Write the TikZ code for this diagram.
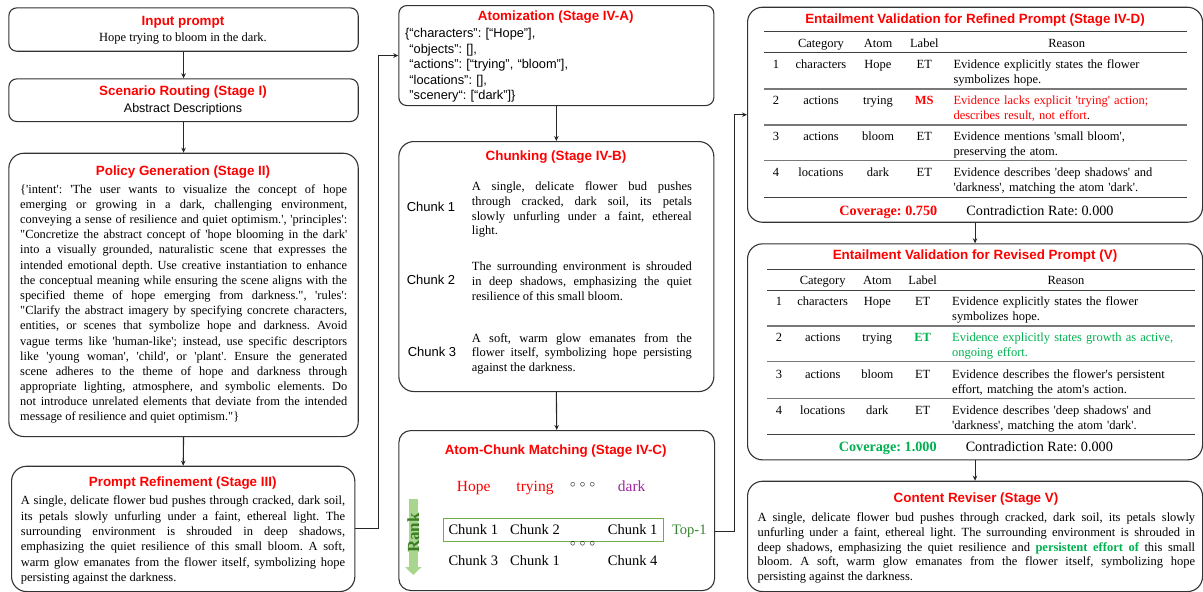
\documentclass[tikz,border=0pt]{standalone}
\usepackage{fontspec}
\usepackage{xcolor}
\usetikzlibrary{positioning,calc,arrows.meta}
\newfontfamily\bodyserif{Liberation Serif}
\newfontfamily\headsans{Liberation Sans}
\frenchspacing
\definecolor{TitleRed}{RGB}{255,0,0}
\definecolor{OkGreen}{RGB}{0,176,80}
\definecolor{TopGreen}{RGB}{56,130,50}
\definecolor{BoxGreen}{RGB}{112,173,71}
\definecolor{RankGreen}{RGB}{169,214,142}
\definecolor{RankText}{RGB}{60,125,35}
\definecolor{AtomPurple}{RGB}{160,40,160}
\definecolor{RuleGray}{RGB}{120,120,120}
\tikzset{
    panel/.style={draw=black!80, line width=1.1pt, anchor=north west, inner sep=0pt, rounded corners=#1},
    panel/.default=8pt,
    ttl/.style={text=TitleRed, inner sep=0pt, font={\headsans\bfseries\fontsize{13.4}{16}\selectfont}},
    txt/.style={inner sep=0pt, font={\bodyserif\fontsize{12.5}{15.2}\selectfont}},
    para/.style={txt, text width=#1, align=justify, anchor=base west},
    lbl/.style={inner sep=0pt, font={\headsans\fontsize{12.8}{15.4}\selectfont}},
    cell/.style={txt, anchor=base},
    reason/.style={txt, anchor=base west, text width=240pt, align=left},
    foot/.style={inner sep=0pt, anchor=base, font={\bodyserif\fontsize{14.2}{16}\selectfont}},
    big/.style={inner sep=0pt, anchor=base, font={\bodyserif\fontsize{14.5}{16}\selectfont}},
    arr/.style={draw=black!85, line width=1.1pt, -{Stealth[length=5pt,width=4.5pt]}},
    hrule/.style={draw=black!75, line width=0.8pt},
    rowrule/.style={draw=RuleGray, line width=1.3pt}
}
\begin{document}
\begin{tikzpicture}[x=1pt, y=-1pt]
    \useasboundingbox (0,0) rectangle (1203,592);

    % --- left column ---
    \node[panel, minimum width=349.4pt, minimum height=43.4pt] (inp) at (8.3,7.3) {};
    \node[ttl] (inpT) at (183,22.3) {Input prompt};
    \node[cell] (inpX) at (183,41.3) {Hope trying to bloom in the dark.};

    \node[panel, minimum width=349.4pt, minimum height=42.7pt] (route) at (8.3,78.3) {};
    \node[ttl] (routeT) at (183,91.7) {Scenario Routing (Stage I)};
    \node[lbl, anchor=base, font={\headsans\fontsize{12.5}{15}\selectfont}] (routeX) at (183,112.6) {Abstract Descriptions};

    \node[panel=15pt, minimum width=349.4pt, minimum height=283.3pt] (policy) at (8.3,152.7) {};
    \node[ttl] (policyT) at (183,171.7) {Policy Generation (Stage II)};
    \node[para=327pt, font={\bodyserif\fontsize{12.4}{15.17}\selectfont}] (policyX) at (20,193.3) {%
        \{'intent': 'The user wants to visualize the concept of hope\linebreak
        emerging or growing in a dark, challenging environment,\linebreak
        conveying a sense of resilience and quiet optimism.', 'principles':\linebreak
        "Concretize the abstract concept of 'hope blooming in the dark'\linebreak
        into a visually grounded, naturalistic scene that expresses the\linebreak
        intended emotional depth. Use creative instantiation to enhance\linebreak
        the conceptual meaning while ensuring the scene aligns with the\linebreak
        specified theme of hope emerging from darkness.", 'rules':\linebreak
        "Clarify the abstract imagery by specifying concrete characters,\linebreak
        entities, or scenes that symbolize hope and darkness. Avoid\linebreak
        vague terms like 'human-like'; instead, use specific descriptors\linebreak
        like 'young woman', 'child', or 'plant'. Ensure the generated\linebreak
        scene adheres to the theme of hope and darkness through\linebreak
        appropriate lighting, atmosphere, and symbolic elements. Do\linebreak
        not introduce unrelated elements that deviate from the intended\linebreak
        message of resilience and quiet optimism."\}};

    \node[panel=15pt, minimum width=343.3pt, minimum height=125.3pt] (refine) at (11,465.7) {};
    \node[ttl] (refineT) at (182.7,483.3) {Prompt Refinement (Stage III)};
    \node[para=324.3pt, font={\bodyserif\fontsize{12.5}{15.4}\selectfont}] (refineX) at (20.7,504.7) {%
        A single, delicate flower bud pushes through cracked, dark soil,\linebreak
        its petals slowly unfurling under a faint, ethereal light. The\linebreak
        surrounding environment is shrouded in deep shadows,\linebreak
        emphasizing the quiet resilience of this small bloom. A soft,\linebreak
        warm glow emanates from the flower itself, symbolizing hope\linebreak
        persisting against the darkness.};

    \draw[arr] (inp.south) -- (route.north);
    \draw[arr] (route.south) -- (policy.north);
    \draw[arr] (policy.south) -- (refine.north);

    % --- middle column ---
    \node[panel, minimum width=315pt, minimum height=100pt] (atom) at (398.3,5) {};
    \node[ttl] (atomT) at (555.7,17.3) {Atomization (Stage IV-A)};
    \node[lbl, anchor=base west, text width=280pt, align=left] (atomX) at (405,37.8) {%
        \{“characters”: [“Hope”],\\
        \phantom{\{}“objects”: [],\\
        \phantom{\{}“actions”: [“trying”, “bloom”],\\
        \phantom{\{}“locations”: [],\\
        \phantom{\{}”scenery“: [“dark”]\}};

    \node[panel=15pt, minimum width=315pt, minimum height=250pt] (chunk) at (398.3,141) {};
    \node[ttl] (chunkT) at (556,157.3) {Chunking (Stage IV-B)};
    \node[lbl, font={\headsans\fontsize{13}{15}\selectfont}] (c1) at (431,207.3) {Chunk 1};
    \node[lbl, font={\headsans\fontsize{13}{15}\selectfont}] (c2) at (431,280) {Chunk 2};
    \node[lbl, font={\headsans\fontsize{13}{15}\selectfont}] (c3) at (432,352.3) {Chunk 3};
    \node[para=220pt, font={\bodyserif\fontsize{12.5}{14.7}\selectfont}] (c1X) at (471.7,190.7) {%
        A single, delicate flower bud pushes\linebreak
        through cracked, dark soil, its petals\linebreak
        slowly unfurling under a faint, ethereal\linebreak
        light.};
    \node[para=220pt, font={\bodyserif\fontsize{12.5}{15.2}\selectfont}] (c2X) at (471.7,270) {%
        The surrounding environment is shrouded\linebreak
        in deep shadows, emphasizing the quiet\linebreak
        resilience of this small bloom.};
    \node[para=220pt, font={\bodyserif\fontsize{12.5}{14.9}\selectfont}] (c3X) at (471.7,342) {%
        A soft, warm glow emanates from the\linebreak
        flower itself, symbolizing hope persisting\linebreak
        against the darkness.};

    \node[panel=12pt, minimum width=315.7pt, minimum height=160pt] (match) at (398.3,430) {};
    \node[ttl] (matchT) at (555.7,450.7) {Atom-Chunk Matching (Stage IV-C)};
    \node[big, text=TitleRed, font={\bodyserif\fontsize{15.5}{17}\selectfont}] (aHope) at (473.7,491) {Hope};
    \node[big, text=TitleRed, font={\bodyserif\fontsize{15.5}{17}\selectfont}] (aTry) at (535,491) {trying};
    \node[inner sep=0pt, font=\fontsize{11}{11}\selectfont] (dotsA) at (582.7,485) {$\circ\,\circ\,\circ$};
    \node[big, text=AtomPurple, font={\bodyserif\fontsize{15.5}{17}\selectfont}] (aDark) at (631.7,491) {dark};
    \node[draw=BoxGreen, line width=1pt, anchor=north west, inner sep=0pt,
          minimum width=220pt, minimum height=23pt] (topbox) at (443.3,517.7) {};
    \node[big] (r1a) at (473.3,534.3) {Chunk 1};
    \node[big] (r1b) at (535,534.3) {Chunk 2};
    \node[big] (r1c) at (632.7,534.3) {Chunk 1};
    \node[big, text=TopGreen] (top1) at (689.3,534.3) {Top-1};
    \node[inner sep=0pt, font=\fontsize{11}{11}\selectfont] (dotsB) at (582.7,544) {$\circ\,\circ\,\circ$};
    \node[big] (r2a) at (473.3,565.3) {Chunk 3};
    \node[big] (r2b) at (535,565.3) {Chunk 1};
    \node[big] (r2c) at (632.7,565.3) {Chunk 4};
    \coordinate (rkTop) at (413.3,499);
    \coordinate (rkEnd) at (413.3,575);
    \draw[RankGreen, line width=9pt, -{Triangle[width=16pt,length=8pt]}] (rkTop) -- (rkEnd);
    \node[inner sep=0pt, rotate=90, text=RankText, font={\bodyserif\bfseries\fontsize{17}{18}\selectfont}] (rank) at (413.3,533) {Rank};

    \draw[arr] (refine.east) -- ++(22.7,0) |- (atom.west);
    \draw[arr] (atom.south) -- (chunk.north);
    \draw[arr] (chunk.south) -- (match.north);

    % --- right column: stage IV-D ---
    \node[panel=15pt, minimum width=455pt, minimum height=215pt] (entD) at (747,6.7) {};
    \node[ttl] (entDT) at (975,20) {Entailment Validation for Refined Prompt (Stage IV-D)};
    \draw[hrule] (764,31.7) -- (1186.7,31.7);
    \node[cell] (dh2) at (821,47.3) {Category};
    \node[cell] (dh3) at (878,47.3) {Atom};
    \node[cell] (dh4) at (924.3,47.3) {Label};
    \node[cell] (dh5) at (1066.7,47.3) {Reason};
    \draw[hrule] (764,52.3) -- (1186.7,52.3);
    \node[cell] (d1a) at (776,68) {1};
    \node[cell] (d1b) at (821,68) {characters};
    \node[cell] (d1c) at (878,68) {Hope};
    \node[cell] (d1d) at (924.3,68) {ET};
    \node[reason] (d1e) at (953.3,68) {Evidence explicitly states the flower\\symbolizes hope.};
    \draw[rowrule] (764,89) -- (1186.7,89);
    \node[cell] (d2a) at (776,104) {2};
    \node[cell] (d2b) at (821,104) {actions};
    \node[cell] (d2c) at (878,104) {trying};
    \node[cell, text=TitleRed, font={\bodyserif\bfseries\fontsize{12.5}{15.2}\selectfont}] (d2d) at (924.3,104) {MS};
    \node[reason] (d2e) at (953.3,104) {\color{TitleRed}Evidence lacks explicit 'trying' action;\\\color{TitleRed}describes result, not effort\color{black}.};
    \draw[rowrule] (764,125) -- (1186.7,125);
    \node[cell] (d3a) at (776,140) {3};
    \node[cell] (d3b) at (821,140) {actions};
    \node[cell] (d3c) at (878,140) {bloom};
    \node[cell] (d3d) at (924.3,140) {ET};
    \node[reason] (d3e) at (953.3,140) {Evidence mentions 'small bloom',\\preserving the atom.};
    \draw[rowrule] (764,160.7) -- (1186.7,160.7);
    \node[cell] (d4a) at (776,176.7) {4};
    \node[cell] (d4b) at (821,176.7) {locations};
    \node[cell] (d4c) at (878,176.7) {dark};
    \node[cell] (d4d) at (924.3,176.7) {ET};
    \node[reason] (d4e) at (953.3,176.7) {Evidence describes 'deep shadows' and\\'darkness', matching the atom 'dark'.};
    \draw[hrule] (764,197.3) -- (1186.7,197.3);
    \node[foot, text=TitleRed, font={\bodyserif\bfseries\fontsize{14.2}{16}\selectfont}] (covD) at (888.3,215) {Coverage: 0.750};
    \node[foot] (conD) at (1040,215) {Contradiction Rate: 0.000};

    % --- right column: stage V check ---
    \node[panel=15pt, minimum width=455pt, minimum height=216pt] (entV) at (747,243.3) {};
    \node[ttl] (entVT) at (975,256) {Entailment Validation for Revised Prompt (V)};
    \draw[hrule] (767.3,269) -- (1195,269);
    \node[cell] (vh2) at (822.7,284) {Category};
    \node[cell] (vh3) at (877.3,284) {Atom};
    \node[cell] (vh4) at (922.7,284) {Label};
    \node[cell] (vh5) at (1066,284) {Reason};
    \draw[hrule] (767.3,290) -- (1195,290);
    \node[cell] (v1a) at (779,305) {1};
    \node[cell] (v1b) at (822.7,305) {characters};
    \node[cell] (v1c) at (877.3,305) {Hope};
    \node[cell] (v1d) at (922.7,305) {ET};
    \node[reason] (v1e) at (952,305) {Evidence explicitly states the flower\\symbolizes hope.};
    \draw[rowrule] (767.3,326) -- (1195,326);
    \node[cell] (v2a) at (779,341.3) {2};
    \node[cell] (v2b) at (822.7,341.3) {actions};
    \node[cell] (v2c) at (877.3,341.3) {trying};
    \node[cell, text=OkGreen, font={\bodyserif\bfseries\fontsize{12.5}{15.2}\selectfont}] (v2d) at (922.7,341.3) {ET};
    \node[reason, text=OkGreen] (v2e) at (952,341.3) {Evidence explicitly states growth as active,\\ongoing effort.};
    \draw[rowrule] (767.3,361.7) -- (1195,361.7);
    \node[cell] (v3a) at (779,378) {3};
    \node[cell] (v3b) at (822.7,378) {actions};
    \node[cell] (v3c) at (877.3,378) {bloom};
    \node[cell] (v3d) at (922.7,378) {ET};
    \node[reason] (v3e) at (952,378) {Evidence describes the flower's persistent\\effort, matching the atom's action.};
    \draw[rowrule] (767.3,398.3) -- (1195,398.3);
    \node[cell] (v4a) at (779,414) {4};
    \node[cell] (v4b) at (822.7,414) {locations};
    \node[cell] (v4c) at (877.3,414) {dark};
    \node[cell] (v4d) at (922.7,414) {ET};
    \node[reason] (v4e) at (952,414) {Evidence describes 'deep shadows' and\\'darkness', matching the atom 'dark'.};
    \draw[hrule] (767.3,434) -- (1195,434);
    \node[foot, text=OkGreen, font={\bodyserif\bfseries\fontsize{14.2}{16}\selectfont}] (covV) at (887.7,451.7) {Coverage: 1.000};
    \node[foot] (conV) at (1039.3,451.7) {Contradiction Rate: 0.000};

    % --- right column: reviser ---
    \node[panel=15pt, minimum width=455pt, minimum height=110.3pt] (revise) at (747,480.7) {};
    \node[ttl] (reviseT) at (976,499.3) {Content Reviser (Stage V)};
    \node[para=437.7pt, font={\bodyserif\fontsize{12.5}{14.85}\selectfont}] (reviseX) at (757.3,521.3) {%
        A single, delicate flower bud pushes through cracked, dark soil, its petals slowly\linebreak
        unfurling under a faint, ethereal light. The surrounding environment is shrouded in\linebreak
        deep shadows, emphasizing the quiet resilience and {\bfseries\color{OkGreen}persistent effort of} this small\linebreak
        bloom. A soft, warm glow emanates from the flower itself, symbolizing hope\linebreak
        persisting against the darkness.};

    \draw[arr] (match.east |- top1) -- ++(19.7,0) |- (entD.west);
    \draw[arr] (entD.south) -- (entV.north);
    \draw[arr] (entV.south) -- (revise.north);
\end{tikzpicture}
\end{document}
